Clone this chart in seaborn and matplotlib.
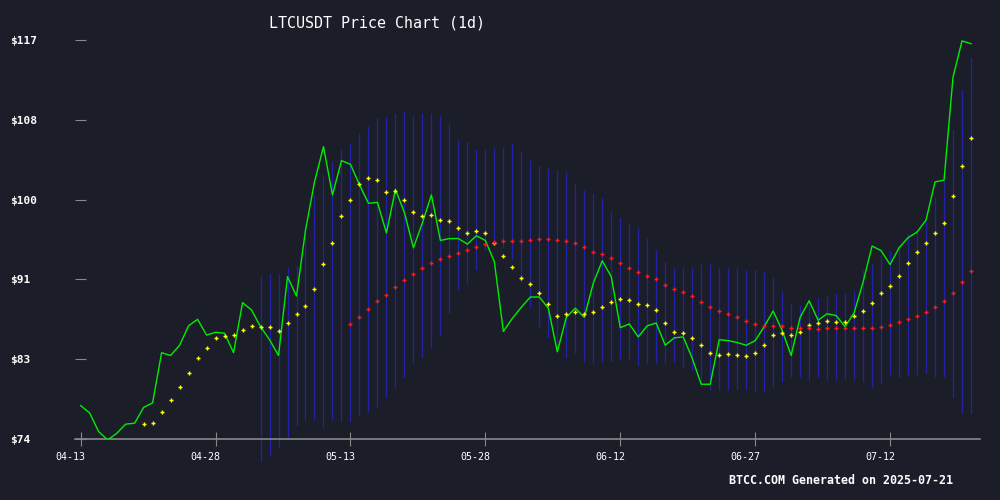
import numpy as np
import pandas as pd
import matplotlib
matplotlib.use("Agg")
import matplotlib.pyplot as plt
import matplotlib.transforms as mtransforms
import seaborn as sns

dates = pd.date_range("2025-04-13", "2025-07-21", freq="D")

price = [77.6,76.8,74.8,73.9,74.6,75.6,75.7,77.4,77.9,83.3,
         83.0,84.1,86.2,86.9,85.2,85.5,85.4,83.3,88.7,87.9,
         86.1,84.7,83.0,91.5,89.4,96.5,101.7,105.5,100.3,104.0,
         103.6,101.4,99.4,99.5,96.2,100.9,98.4,94.6,97.3,100.3,
         95.4,95.6,95.6,95.0,95.9,95.4,93.1,85.6,87.0,88.2,
         89.3,89.3,88.1,83.4,87.1,88.1,87.1,90.8,93.2,91.5,
         86.0,86.4,85.0,86.2,86.5,84.1,84.9,85.0,82.7,79.9,
         79.9,84.7,84.6,84.4,84.1,84.6,86.1,87.8,85.7,83.0,
         87.1,88.9,86.8,87.5,87.3,86.1,87.6,90.9,94.8,94.3,
         92.8,94.6,95.7,96.3,97.6,101.7,101.9,113.0,116.9,116.6]

ma_short_start = 7
ma_short = [75.6,75.7,76.9,
            78.2,79.6,81.1,82.7,83.8,84.9,85.1,85.2,85.8,86.2,
            86.1,86.1,85.6,86.5,87.5,88.3,90.2,92.9,95.1,98.0,
            99.8,101.5,102.1,101.9,100.6,100.7,99.8,98.5,98.0,98.1,
            97.6,97.5,96.7,96.2,96.4,96.2,95.1,93.7,92.5,91.4,
            90.7,89.7,88.6,87.3,87.5,87.7,87.5,87.7,88.2,88.8,
            89.1,89.0,88.5,88.4,87.9,86.5,85.5,85.4,84.9,84.1,
            83.3,83.1,83.2,83.1,82.9,83.3,84.1,85.2,85.4,85.2,
            85.5,86.3,86.5,86.7,86.6,86.6,87.3,87.8,88.7,89.7,
            90.5,91.6,93.0,94.2,95.1,96.2,97.3,100.2,103.4,106.4]

ma_long_start = 30
ma_long = [86.4,87.1,88.0,88.9,89.5,90.4,91.1,91.8,92.4,93.0,
           93.4,93.7,94.0,94.4,94.7,95.0,95.2,95.3,95.3,95.3,
           95.4,95.5,95.6,95.4,95.3,95.1,94.7,94.2,93.9,93.5,
           93.0,92.4,92.0,91.6,91.2,90.6,90.2,89.8,89.4,88.8,
           88.2,87.8,87.5,87.1,86.7,86.4,86.2,86.2,86.2,86.0,
           86.0,86.0,85.9,86.0,86.0,86.0,86.0,86.0,86.0,86.1,
           86.3,86.6,86.9,87.3,87.7,88.2,88.9,89.7,90.9,92.1]

band_start = 20
band_upper = [91.6,91.8,91.8,92.5,92.7,96.6,100.2,102.5,104.0,105.2,
              105.9,107.0,107.7,108.6,108.7,109.1,109.3,108.9,109.1,109.1,
              108.8,107.9,106.2,106.0,105.2,105.2,105.4,105.5,105.9,105.0,
              104.1,103.5,103.2,103.0,102.8,101.6,100.8,100.5,100.0,98.5,
              97.9,97.3,96.7,95.7,94.4,93.1,92.4,92.4,92.5,92.9,
              92.9,92.4,92.4,92.4,92.2,92.2,92.0,91.5,89.9,88.7,
              88.4,89.0,89.3,89.4,89.7,89.7,89.9,92.2,92.9,93.8,
              94.4,94.9,96.2,96.5,97.6,100.1,101.9,107.3,111.6,115.1]
band_lower = [71.5,72.3,73.1,74.1,75.4,76.0,76.0,75.3,76.0,75.8,
              75.8,76.6,76.9,77.4,78.5,79.5,80.7,82.2,82.8,83.8,
              85.2,87.6,90.1,90.8,92.2,94.4,94.9,94.6,93.3,90.9,
              88.1,86.1,84.9,83.9,82.7,83.3,82.3,82.2,82.3,82.3,
              82.6,82.5,82.0,82.2,82.2,82.2,82.3,81.8,81.4,79.6,
              79.3,79.3,79.3,79.4,79.3,79.1,79.1,79.6,80.1,80.7,
              80.7,80.4,80.7,80.4,80.4,80.5,80.5,80.1,79.6,79.9,
              80.9,80.7,80.9,80.9,81.1,80.7,80.7,78.4,76.8,76.8]

ytick_vals = [74, 82.6, 91.2, 99.8, 108.4, 117]
ytick_labels = ["$74", "$83", "$91", "$100", "$108", "$117"]
xtick_idx = [0, 15, 30, 45, 60, 75, 90]
xtick_labels = ["04-13", "04-28", "05-13", "05-28", "06-12", "06-27", "07-12"]

bg = "#1b1e29"
idx = np.arange(len(price))
df = pd.DataFrame({"i": idx, "price": price})
dfs = pd.DataFrame({"i": idx[ma_short_start:], "v": ma_short})
dfl = pd.DataFrame({"i": idx[ma_long_start:], "v": ma_long})
bi = idx[band_start:]

fig = plt.figure(figsize=(10, 5), dpi=100, facecolor=bg)
ax = fig.add_axes([0.075, 0.122, 0.905, 0.798])
ax.set_facecolor(bg)

ax.vlines(bi, band_lower, band_upper, colors="#2222a8", linewidth=0.9,
          clip_on=False, zorder=1)
sns.lineplot(data=df, x="i", y="price", ax=ax, color="#00ee00", linewidth=1, zorder=3)
sns.scatterplot(data=dfs, x="i", y="v", ax=ax, color="#ffff00", marker="+", s=12, linewidth=1, zorder=4)
sns.scatterplot(data=dfl, x="i", y="v", ax=ax, color="#ff1a1a", marker="+", s=12, linewidth=1, zorder=4)

ax.set_xlim(-0.63, 100.0)
ax.set_ylim(74, 117)
for s in ["top", "right", "left"]:
    ax.spines[s].set_visible(False)
ax.spines["bottom"].set_color("#888888")
ax.spines["bottom"].set_linewidth(1.2)

mono = "DejaVu Sans Mono"
ax.set_yticks(ytick_vals)
ax.set_yticklabels(ytick_labels, fontfamily=mono, fontsize=8.0, fontweight="bold", color="white", ha="left")
ax.tick_params(axis="y", direction="in", length=8, color="#888888", pad=47)
ax.set_xticks(xtick_idx)
ax.set_xticklabels(xtick_labels, fontfamily=mono, fontsize=7.2, color="white")
ax.tick_params(axis="x", direction="inout", length=10, color="#888888", pad=4)
off = mtransforms.ScaledTranslation(-10/100, 0, fig.dpi_scale_trans)
for lab in ax.get_xticklabels():
    lab.set_transform(lab.get_transform() + off)
ax.set_xlabel("")
ax.set_ylabel("")

fig.text(0.377, 0.955, "LTCUSDT Price Chart (1d)", fontfamily=mono, fontsize=10.8,
         color="white", ha="center", va="center")
fig.text(0.953, 0.04, "BTCC.COM Generated on 2025-07-21", fontfamily=mono, fontsize=8.4,
         fontweight="bold", color="white", ha="right", va="center")

fig.savefig("out.png", dpi=100, facecolor=bg)
